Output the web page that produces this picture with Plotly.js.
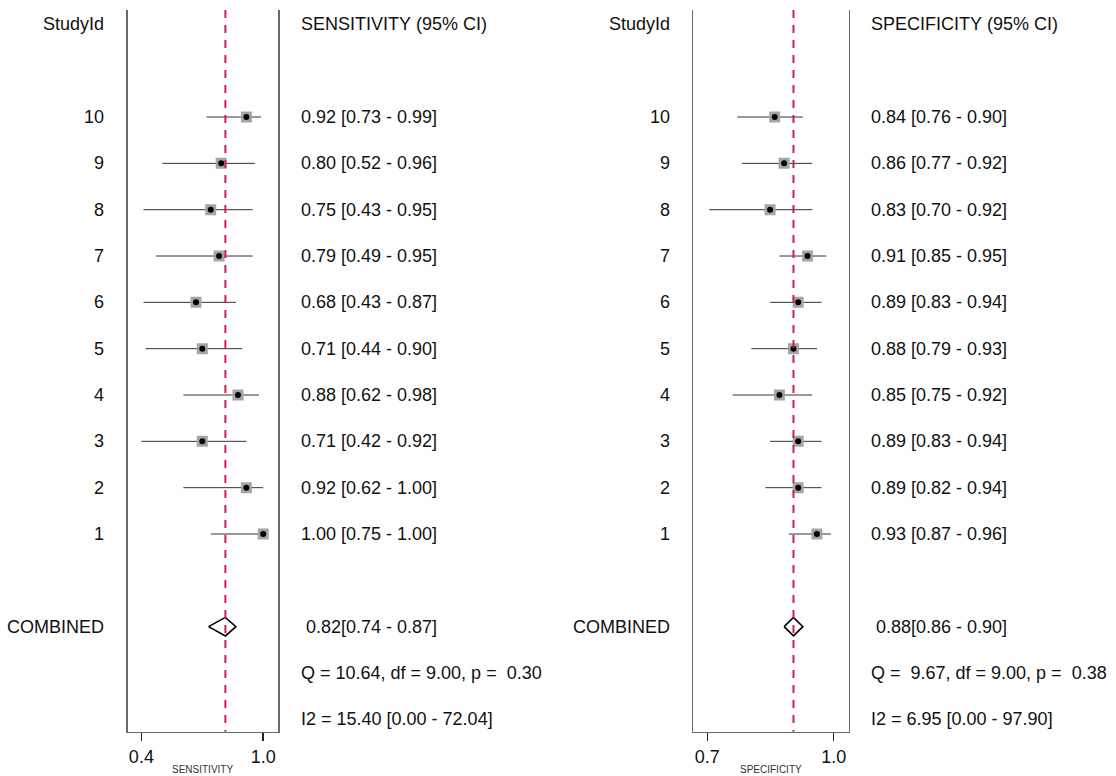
<!DOCTYPE html>
<html><head><meta charset="utf-8">
<script src="https://cdn.plot.ly/plotly-3.0.1.min.js"></script>
<style>html,body{margin:0;padding:0;background:#fff}</style>
</head><body><div id="chart" style="width:1116px;height:776px"></div>
<script>
// ---- data ----
const studyIds = [1, 2, 3, 4, 5, 6, 7, 8, 9, 10];
const sensEst = [1.00, 0.92, 0.71, 0.88, 0.71, 0.68, 0.79, 0.75, 0.80, 0.92];
const sensLo  = [0.75, 0.62, 0.42, 0.62, 0.44, 0.43, 0.49, 0.43, 0.52, 0.73];
const sensHi  = [1.00, 1.00, 0.92, 0.98, 0.90, 0.87, 0.95, 0.95, 0.96, 0.99];
const specEst = [0.93, 0.89, 0.89, 0.85, 0.88, 0.89, 0.91, 0.83, 0.86, 0.84];
const specLo  = [0.87, 0.82, 0.83, 0.75, 0.79, 0.83, 0.85, 0.70, 0.77, 0.76];
const specHi  = [0.96, 0.94, 0.94, 0.92, 0.93, 0.94, 0.95, 0.92, 0.92, 0.90];
const sensCombined = [0.82, 0.74, 0.87];   // estimate, lower, upper
const specCombined = [0.88, 0.86, 0.90];
const sensHet = ['Q = 10.64, df = 9.00, p =  0.30', 'I2 = 15.40 [0.00 - 72.04]'];
const specHet = ['Q =  9.67, df = 9.00, p =  0.38', 'I2 = 6.95 [0.00 - 97.90]'];
const sensTickVals = [0.42, 1.00];
const specTickVals = [0.696, 0.966];
const sensTickText = ['0.4', '1.0'];
const specTickText = ['0.7', '1.0'];
const headers = ['StudyId', 'SENSITIVITY (95% CI)', 'SPECIFICITY (95% CI)'];
const axisNames = ['SENSITIVITY', 'SPECIFICITY'];
const combinedLabel = 'COMBINED';

// ---- layout helpers ----
const W = 1116, H = 776;
const px = v => v / W;
const py = v => 1 - v / H;
const FONT = 'Liberation Sans, Arial, sans-serif';
const TXT = '#111111';
const nb = s => s.replace(/ /g, '\u00a0');
const f2 = v => v.toFixed(2);

const rowHeader = 12, rowComb = -1, rowQ = -2, rowI2 = -3;
const yRange = [-3.267, 12.31];
const yDomain = [py(731.7), py(10)];

function panel(est, lo, hi, comb, xa, ya) {
  const cx = [], cy = [];
  for (let i = 0; i < studyIds.length; i++) {
    cx.push(lo[i], hi[i], null); cy.push(studyIds[i], studyIds[i], null);
  }
  const h = 0.2;
  return [
    {type: 'scatter', mode: 'lines', x: cx, y: cy, xaxis: xa, yaxis: ya,
     line: {color: '#333333', width: 1}, hoverinfo: 'skip', showlegend: false},
    {type: 'scatter', mode: 'markers', x: est, y: studyIds, xaxis: xa, yaxis: ya,
     marker: {symbol: 'square', size: 11, color: '#a2a5a8', line: {width: 0}}, showlegend: false},
    {type: 'scatter', mode: 'markers', x: est, y: studyIds, xaxis: xa, yaxis: ya,
     marker: {symbol: 'circle', size: 6, color: '#000000', line: {width: 0}}, showlegend: false},
    {type: 'scatter', mode: 'lines', xaxis: xa, yaxis: ya,
     x: [comb[1], comb[0], comb[2], comb[0], comb[1]],
     y: [rowComb, rowComb + h, rowComb, rowComb - h, rowComb],
     line: {color: '#000000', width: 1.6}, showlegend: false}
  ];
}

const data = [].concat(
  panel(sensEst, sensLo, sensHi, sensCombined, 'x', 'y'),
  panel(specEst, specLo, specHi, specCombined, 'x2', 'y2')
);

const ann = [];
function addText(text, x, y, xanchor, yref, size) {
  ann.push({text: nb(text), x: x, y: y, xref: 'paper', yref: yref, xanchor: xanchor,
            yanchor: 'middle', showarrow: false, borderpad: 0,
            font: {family: FONT, size: size || 18, color: TXT}});
}
function texts(est, lo, hi, comb, het, idRight, labLeft, header, yref) {
  addText(headers[0], px(idRight), rowHeader, 'right', yref);
  addText(header, px(labLeft), rowHeader, 'left', yref);
  for (let i = 0; i < studyIds.length; i++) {
    addText(String(studyIds[i]), px(idRight), studyIds[i], 'right', yref);
    addText(f2(est[i]) + ' [' + f2(lo[i]) + ' - ' + f2(hi[i]) + ']', px(labLeft), studyIds[i], 'left', yref);
  }
  addText(combinedLabel, px(idRight), rowComb, 'right', yref);
  addText(' ' + f2(comb[0]) + '[' + f2(comb[1]) + ' - ' + f2(comb[2]) + ']', px(labLeft), rowComb, 'left', yref);
  addText(het[0], px(labLeft), rowQ, 'left', yref);
  addText(het[1], px(labLeft), rowI2, 'left', yref);
}
texts(sensEst, sensLo, sensHi, sensCombined, sensHet, 104.5, 299.5, headers[1], 'y');
texts(specEst, specLo, specHi, specCombined, specHet, 671, 869.5, headers[2], 'y2');
ann.push({text: axisNames[0], x: px(202.5), y: py(769), xref: 'paper', yref: 'paper',
          xanchor: 'center', yanchor: 'middle', showarrow: false, borderpad: 0,
          font: {family: FONT, size: 10, color: '#333333'}});
ann.push({text: axisNames[1], x: px(770.7), y: py(769), xref: 'paper', yref: 'paper',
          xanchor: 'center', yanchor: 'middle', showarrow: false, borderpad: 0,
          font: {family: FONT, size: 10, color: '#333333'}});

function xaxis(domain, range, tv, tt, anchor) {
  return {domain: domain, range: range, anchor: anchor, showgrid: false, zeroline: false,
          showline: true, linecolor: '#6a6a6a', linewidth: 1.6,
          ticks: 'outside', ticklen: 8, tickwidth: 1.4, tickcolor: '#222222',
          tickvals: tv, ticktext: tt, tickfont: {family: FONT, size: 18, color: TXT},
          fixedrange: true};
}
function yaxis(anchor) {
  return {domain: yDomain, range: yRange, anchor: anchor, showgrid: false, zeroline: false,
          showline: true, mirror: true, linecolor: '#6a6a6a', linewidth: 1.6,
          ticks: '', showticklabels: false, fixedrange: true};
}

const shapes = [
  {type: 'line', xref: 'x', yref: 'y domain', x0: sensCombined[0], x1: sensCombined[0], y0: 1, y1: 0,
   line: {color: '#cc2244', width: 2, dash: '8px,7px'}},
  {type: 'line', xref: 'x2', yref: 'y2 domain', x0: specCombined[0], x1: specCombined[0], y0: 1, y1: 0,
   line: {color: '#cc2244', width: 2, dash: '8px,7px'}}
];

const layout = {
  width: W, height: H, margin: {l: 0, r: 0, t: 0, b: 0},
  paper_bgcolor: '#ffffff', plot_bgcolor: '#ffffff',
  font: {family: FONT, color: TXT},
  showlegend: false,
  xaxis: xaxis([px(127.7), px(278)], [0.3548, 1.0705], sensTickVals, sensTickText, 'y'),
  yaxis: yaxis('x'),
  xaxis2: xaxis([px(693.3), px(848.7)], [0.6661, 0.9979], specTickVals, specTickText, 'y2'),
  yaxis2: yaxis('x2'),
  shapes: shapes,
  annotations: ann
};

Plotly.newPlot('chart', data, layout, {staticPlot: true, displayModeBar: false});
</script>
</body></html>
